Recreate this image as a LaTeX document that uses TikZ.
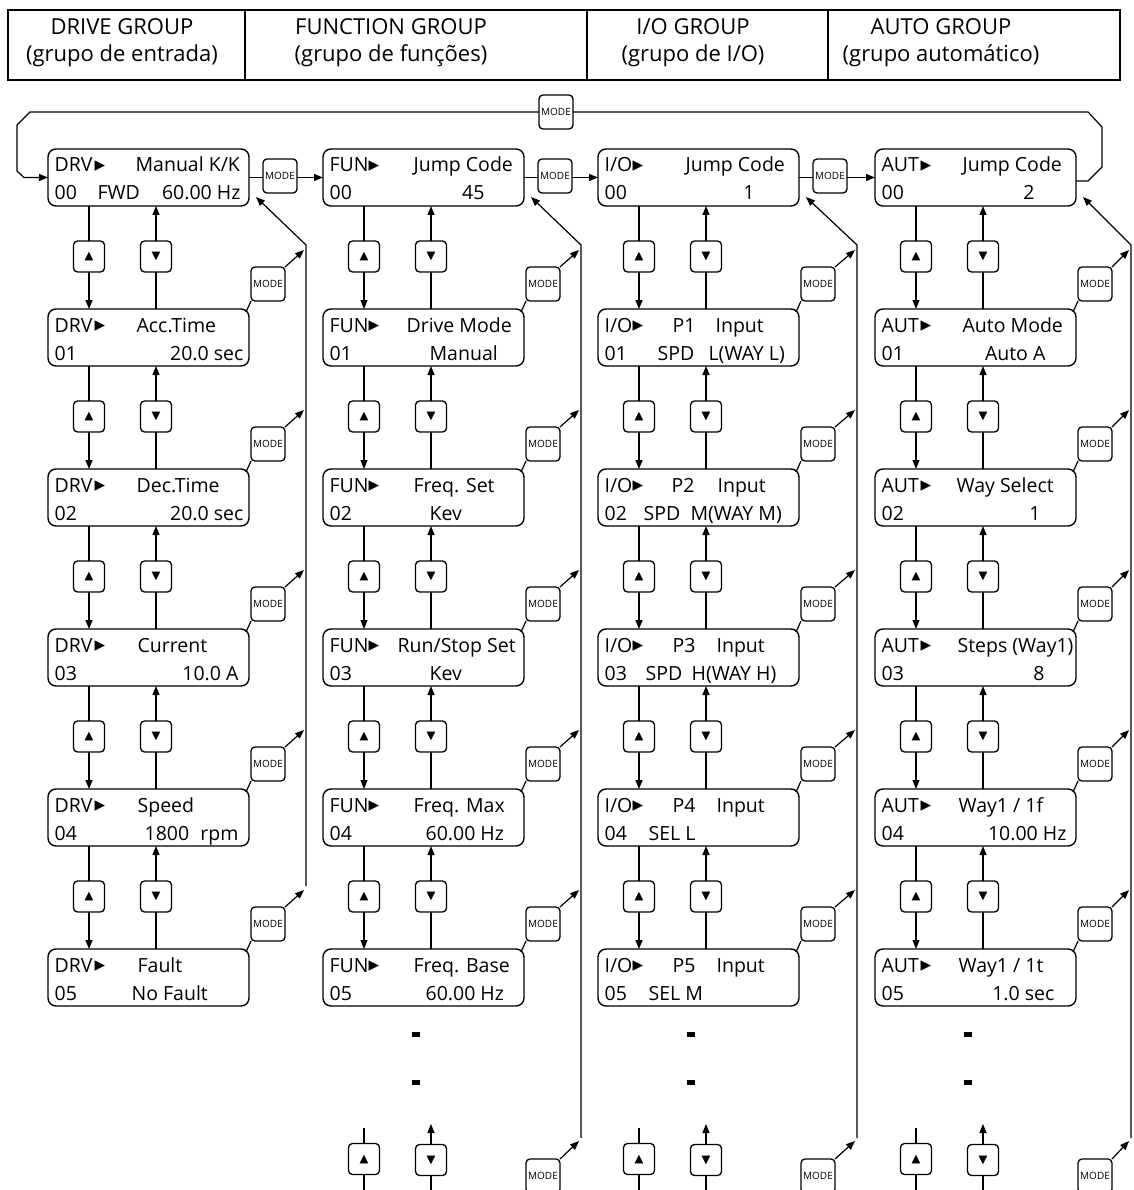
\documentclass[tikz,border=0pt]{standalone}
\usepackage{fontspec}
\setmainfont{Open Sans}
\newfontfamily\symfont{DejaVu Sans}
\usetikzlibrary{arrows.meta,calc}

% display box: name, x, y, prefix, triangle offset, parameter code
\newcommand\lcd[6]{%
  \node[lcd] (#1) at (#2,#3) {};
  \node[lt] (#1-p) at ([shift={(6,23)}]#1.north west) {#4};
  \node[tri] (#1-t) at ([shift={(#5,17)}]#1.north west) {▸};
  \node[lt] (#1-n) at ([shift={(6,51)}]#1.north west) {#6};
}
% text on the first / second display line: box, tag, style, x offset, text
\newcommand\lone[5]{\node[#3] (#1-#2) at ([shift={(#4,23)}]#1.north west) {#5};}
\newcommand\ltwo[5]{\node[#3] (#1-#2) at ([shift={(#4,51)}]#1.north west) {#5};}

\begin{document}
\begin{tikzpicture}[x=1pt,y=-1pt,
  line width=1.2pt,
  lcd/.style={draw, line width=1.4pt, rounded corners=8pt, minimum width=201pt,
    minimum height=57pt, anchor=north west, inner sep=0pt, outer sep=0pt},
  key/.style={draw, line width=1.3pt, rounded corners=4pt, minimum width=31pt,
    minimum height=31pt, inner sep=0pt, outer sep=0pt,
    font=\symfont\fontsize{11.5}{11.5}\selectfont},
  modekey/.style={draw, line width=1.3pt, rounded corners=4pt, minimum width=34pt,
    minimum height=34pt, inner sep=0pt, outer sep=0pt,
    font=\fontsize{10}{10}\selectfont},
  lt/.style={anchor=base west, inner sep=0pt, font=\fontsize{19.5}{20}\selectfont},
  rt/.style={anchor=base east, inner sep=0pt, font=\fontsize{19.5}{20}\selectfont},
  tri/.style={inner sep=0pt, font=\symfont\fontsize{21}{21}\selectfont},
  hcell/.style={draw, line width=1.3pt, minimum height=70pt, inner sep=0pt, outer sep=0pt},
  htxt/.style={anchor=base, inner sep=0pt, font=\fontsize{22}{22}\selectfont},
  dot/.style={fill=black, minimum width=8pt, minimum height=5pt, inner sep=0pt},
  arr/.style={-{Triangle[length=9pt,width=7pt]}}
]
\useasboundingbox (0,0) rectangle (1133,1190);
\fill[white] (0,0) rectangle (1133,1190);
\clip (0,0) rectangle (1133,1190);

% ---------- group header ----------
\node[hcell, minimum width=237pt] (h1) at (126.5,45) {};
\node[hcell, minimum width=342pt] (h2) at (416,45) {};
\node[hcell, minimum width=241pt] (h3) at (707.5,45) {};
\node[hcell, minimum width=292pt] (h4) at (974,45) {};
\node[htxt] (h1a) at (122,35) {DRIVE GROUP};
\node[htxt] (h1b) at (122,62) {(grupo de entrada)};
\node[htxt] (h2a) at (391,35) {FUNCTION GROUP};
\node[htxt] (h2b) at (391,62) {(grupo de funções)};
\node[htxt] (h3a) at (693,35) {I/O GROUP};
\node[htxt] (h3b) at (693,62) {(grupo de I/O)};
\node[htxt] (h4a) at (941,35) {AUTO GROUP};
\node[htxt] (h4b) at (941,62) {(grupo automático)};

% ---------- drive group ----------
\lcd{d0}{48}{149}{DRV}{52}{00}
\lone{d0}{a}{lt}{87}{Manual K/K}
\ltwo{d0}{b}{lt}{49}{FWD}
\ltwo{d0}{c}{rt}{193}{60.00 Hz}
\lcd{d1}{48}{309}{DRV}{52}{01}
\lone{d1}{a}{lt}{88}{Acc.Time}
\ltwo{d1}{c}{rt}{196}{20.0 sec}
\lcd{d2}{48}{469}{DRV}{52}{02}
\lone{d2}{a}{lt}{88}{Dec.Time}
\ltwo{d2}{c}{rt}{196}{20.0 sec}
\lcd{d3}{48}{629}{DRV}{52}{03}
\lone{d3}{a}{lt}{89}{Current}
\ltwo{d3}{c}{rt}{191}{10.0 A}
\lcd{d4}{48}{789}{DRV}{52}{04}
\lone{d4}{a}{lt}{89}{Speed}
\ltwo{d4}{b}{lt}{96}{1800}
\ltwo{d4}{c}{rt}{191}{rpm}
\lcd{d5}{48}{949}{DRV}{52}{05}
\lone{d5}{a}{lt}{89}{Fault}
\ltwo{d5}{b}{lt}{83}{No Fault}

% ---------- function group ----------
\lcd{f0}{323}{149}{FUN}{51}{00}
\lone{f0}{a}{lt}{90}{Jump Code}
\ltwo{f0}{c}{rt}{162}{45}
\lcd{f1}{323}{309}{FUN}{51}{01}
\lone{f1}{a}{lt}{83}{Drive Mode}
\ltwo{f1}{b}{lt}{106}{Manual}
\lcd{f2}{323}{469}{FUN}{51}{02}
\lone{f2}{a}{lt}{90}{Freq. Set}
\ltwo{f2}{b}{lt}{106}{Kev}
\lcd{f3}{323}{629}{FUN}{51}{03}
\lone{f3}{a}{lt}{74}{Run/Stop Set}
\ltwo{f3}{b}{lt}{106}{Kev}
\lcd{f4}{323}{789}{FUN}{51}{04}
\lone{f4}{a}{lt}{90}{Freq. Max}
\ltwo{f4}{b}{lt}{102}{60.00 Hz}
\lcd{f5}{323}{949}{FUN}{51}{05}
\lone{f5}{a}{lt}{90}{Freq. Base}
\ltwo{f5}{b}{lt}{102}{60.00 Hz}

% ---------- I/O group ----------
\lcd{i0}{598}{149}{I/O}{40}{00}
\lone{i0}{a}{lt}{87}{Jump Code}
\ltwo{i0}{c}{rt}{157}{1}
\lcd{i1}{598}{309}{I/O}{40}{01}
\lone{i1}{a}{lt}{74}{P1}
\lone{i1}{d}{lt}{117}{Input}
\ltwo{i1}{b}{lt}{59}{SPD}
\ltwo{i1}{c}{lt}{110}{L(WAY L)}
\lcd{i2}{598}{469}{I/O}{40}{02}
\lone{i2}{a}{lt}{73}{P2}
\lone{i2}{d}{lt}{119}{Input}
\ltwo{i2}{b}{lt}{45}{SPD}
\ltwo{i2}{c}{lt}{92}{M(WAY M)}
\lcd{i3}{598}{629}{I/O}{40}{03}
\lone{i3}{a}{lt}{74}{P3}
\lone{i3}{d}{lt}{118}{Input}
\ltwo{i3}{b}{lt}{47}{SPD}
\ltwo{i3}{c}{lt}{93}{H(WAY H)}
\lcd{i4}{598}{789}{I/O}{40}{04}
\lone{i4}{a}{lt}{74}{P4}
\lone{i4}{d}{lt}{118}{Input}
\ltwo{i4}{b}{lt}{50}{SEL L}
\lcd{i5}{598}{949}{I/O}{40}{05}
\lone{i5}{a}{lt}{74}{P5}
\lone{i5}{d}{lt}{118}{Input}
\ltwo{i5}{b}{lt}{50}{SEL M}

% ---------- auto group ----------
\lcd{a0}{875}{149}{AUT}{51}{00}
\lone{a0}{a}{lt}{87}{Jump Code}
\ltwo{a0}{c}{rt}{160}{2}
\lcd{a1}{875}{309}{AUT}{51}{01}
\lone{a1}{a}{lt}{87}{Auto Mode}
\ltwo{a1}{c}{rt}{171}{Auto A}
\lcd{a2}{875}{469}{AUT}{51}{02}
\lone{a2}{a}{lt}{81}{Way Select}
\ltwo{a2}{c}{rt}{166}{1}
\lcd{a3}{875}{629}{AUT}{51}{03}
\lone{a3}{a}{lt}{82}{Steps (Way1)}
\ltwo{a3}{c}{rt}{170}{8}
\lcd{a4}{875}{789}{AUT}{51}{04}
\lone{a4}{a}{lt}{83}{Way1 / 1f}
\ltwo{a4}{c}{rt}{192}{10.00 Hz}
\lcd{a5}{875}{949}{AUT}{51}{05}
\lone{a5}{a}{lt}{83}{Way1 / 1t}
\ltwo{a5}{c}{rt}{180}{1.0 sec}

% ---------- up / down keys and MODE return paths ----------
\foreach \cl/\xo/\xl/\yb in {d/48/306/886, f/323/581/1138, i/598/857/1138, a/875/1131/1138}{
  \foreach \r in {0,...,4}{
    \pgfmathtruncatemacro\n{\r+1}
    \pgfmathsetmacro\ky{256.5+160*\r}
    \node[key] (\cl U\r) at (\xo+41,\ky) {▲};
    \node[key] (\cl D\r) at (\xo+108,\ky) {▼};
    \draw (\cl U\r |- \cl\r.south) -- (\cl U\r.north);
    \draw[arr] (\cl U\r.south) -- (\cl U\r |- \cl\n.north);
    \draw (\cl D\r |- \cl\n.north) -- (\cl D\r.south);
    \draw[arr] (\cl D\r.north) -- (\cl D\r |- \cl\r.south);
  }
  \foreach \r in {1,...,5}{
    \pgfmathsetmacro\my{124+160*\r}
    \pgfmathsetmacro\ty{90+160*\r}
    \node[modekey] (\cl M\r) at (\xo+220,\my) {MODE};
    \coordinate (\cl T\r) at (\xl-2,\ty);
    \draw ([shift={(-3,3)}]\cl\r.north east) -- (\cl M\r.south west);
    \draw[arr] (\cl M\r.north east) -- (\cl T\r);
  }
  \coordinate (\cl B) at (\xl,\yb);
  \coordinate (\cl K) at (\xl,245);
  \coordinate (\cl R) at ([shift={(7,-9)}]\cl0.south east);
  \draw[arr] (\cl B) -- (\cl K) -- (\cl R);
}

% ---------- continuation at the bottom of the long groups ----------
\foreach \cl/\xo/\xl in {f/323/581, i/598/857, a/875/1131}{
  \node[dot] (\cl P1) at (\xo+93,1034) {};
  \node[dot] (\cl P2) at (\xo+93,1082) {};
  \node[key] (\cl U5) at (\xo+41,1159) {▲};
  \node[key] (\cl D5) at (\xo+108,1160) {▼};
  \coordinate (\cl Ua) at (\xo+41,1128);
  \coordinate (\cl Ub) at (\xo+41,1195);
  \coordinate (\cl Da) at (\xo+108,1124);
  \coordinate (\cl Db) at (\xo+108,1195);
  \draw (\cl Ua) -- (\cl U5.north);
  \draw (\cl U5.south) -- (\cl Ub);
  \draw[arr] (\cl D5.north) -- (\cl Da);
  \draw (\cl D5.south) -- (\cl Db);
  \node[modekey] (\cl M6) at (\xo+220,1176) {MODE};
  \coordinate (\cl T6) at (\xl-2,1141);
  \draw[arr] (\cl M6.north east) -- (\cl T6);
}

% ---------- MODE chain between the groups ----------
\node[modekey] (m1) at (280,176) {MODE};
\node[modekey] (m2) at (555,176) {MODE};
\node[modekey] (m3) at (830,176) {MODE};
\draw (d0.east) -- (d0.east -| m1.west);
\draw[arr] (d0.east -| m1.east) -- (f0.west);
\draw (f0.east) -- (f0.east -| m2.west);
\draw[arr] (f0.east -| m2.east) -- (i0.west);
\draw (i0.east) -- (i0.east -| m3.west);
\draw[arr] (i0.east -| m3.east) -- (a0.west);

% ---------- MODE loop back from the auto group ----------
\node[modekey] (m4) at (556,112) {MODE};
\coordinate (lp1) at ([shift={(0,3.5)}]a0.east);
\coordinate (lp2) at (1088,181);
\coordinate (lp3) at (1102,167);
\coordinate (lp4) at (1102,127);
\coordinate (lp5) at (1088,112);
\coordinate (lp6) at (30,112);
\coordinate (lp7) at (17,125);
\coordinate (lp8) at (17,171);
\coordinate (lp9) at (24,177.5);
\draw (lp1) -- (lp2) -- (lp3) -- (lp4) -- (lp5) -- (m4.east);
\draw[arr] (m4.west) -- (lp6) -- (lp7) -- (lp8) -- (lp9) -- (d0.west);
\end{tikzpicture}
\end{document}
